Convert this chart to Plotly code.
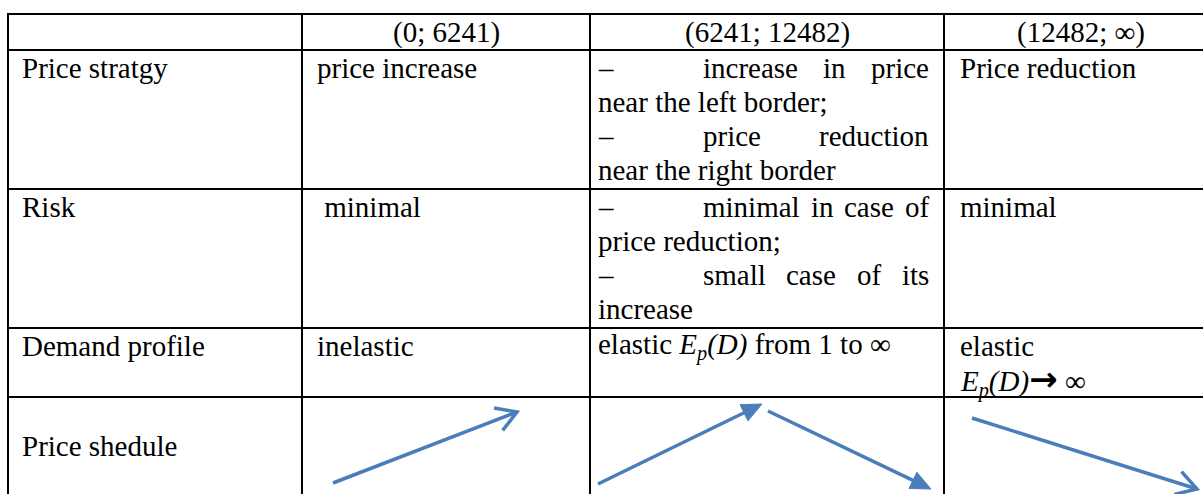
import math
import plotly.graph_objects as go

# ---------------- data ----------------
col_headers = ["(0; 6241)", "(6241; 12482)", "(12482; ∞)"]
row_labels = ["Price stratgy", "Risk", "Demand profile", "Price shedule"]

# cell contents: list of lines; a line is (words, justified_with_dash)
strategy_cells = [
    [(["price increase"], False)],
    [(["–", "increase", "in", "price"], True),
     (["near the left border;"], False),
     (["–", "price", "reduction"], True),
     (["near the right border"], False)],
    [(["Price reduction"], False)],
]
risk_cells = [
    [([" minimal"], False)],
    [(["–", "minimal", "in", "case", "of"], True),
     (["price reduction;"], False),
     (["–", "small", "case", "of", "its"], True),
     (["increase"], False)],
    [(["minimal"], False)],
]
ARROW_SYM = '<span style="font-family:DejaVu Sans;font-size:34px"><b>→</b></span>'
demand_cells = [
    [(["inelastic"], False)],
    [(["elastic <i>E</i><sub><i>p</i></sub><i>(D)</i> from 1 to ∞"], False)],
    [(["elastic"], False),
     (["<i>E</i><sub><i>p</i></sub><i>(D)</i>" + ARROW_SYM + " ∞"], False)],
]
# price schedule: direction of each arrow per column ("up" / "down"), head style
schedule = [
    [("up", "open")],
    [("up", "filled"), ("down", "filled")],
    [("down", "open")],
]

# ---------------- layout geometry ----------------
W, H = 1203, 494
FONT = "Liberation Serif, Times New Roman, DejaVu Serif, serif"
FS = 29
col_x = [8, 302, 590, 944, 1218]
row_y = [14, 50, 189, 328, 397, 560]
LINE_H = 34
BASE_OFF = 28
TAB_X = 703
RIGHT_X = 929
BLUE = "#4A7EBB"

widths = {' ': 250, '–': 500, 'a': 444, 'b': 500, 'c': 444, 'd': 500, 'e': 444, 'f': 333,
          'g': 500, 'h': 500, 'i': 278, 'j': 278, 'k': 500, 'l': 278, 'm': 778, 'n': 500,
          'o': 500, 'p': 500, 'q': 500, 'r': 333, 's': 389, 't': 278, 'u': 500, 'v': 500,
          'w': 722, 'x': 500, 'y': 500, 'z': 444, ';': 278}


def tw(s):
    return sum(widths.get(ch, 500) for ch in s) * FS / 1000.0


fig = go.Figure()
annotations = []


def add_text(x, baseline, text, anchor="left"):
    annotations.append(dict(
        x=x, y=baseline - 0.34 * FS, xref="x", yref="y", text=text, showarrow=False,
        xanchor=anchor, yanchor="middle", borderpad=0, borderwidth=0,
        font=dict(family=FONT, size=FS, color="black")))


# headers
for i, h in enumerate(col_headers):
    cx = (col_x[i + 1] + col_x[i + 2]) / 2
    add_text(cx, row_y[0] + BASE_OFF, h, anchor="center")

# row labels
for r, lab in enumerate(row_labels):
    base = row_y[r + 1] + BASE_OFF
    if r == 3:
        base = 456
    add_text(22, base, lab)

left_pad = [317, 598, 960]
for r, cells in enumerate([strategy_cells, risk_cells, demand_cells]):
    for c, lines in enumerate(cells):
        for k, (words, just) in enumerate(lines):
            base = row_y[r + 1] + BASE_OFF + k * LINE_H
            if just:
                add_text(left_pad[c], base, words[0])
                rest = words[1:]
                total = sum(tw(w) for w in rest)
                gap = (RIGHT_X - TAB_X - total) / (len(rest) - 1) if len(rest) > 1 else 0
                x = TAB_X
                for w in rest:
                    add_text(x, base, w)
                    x += tw(w) + gap
            else:
                add_text(left_pad[c], base, words[0])

# table lines
shapes = []
for y in row_y[:5]:
    shapes.append(dict(type="line", x0=col_x[0] - 1, x1=col_x[-1], y0=y, y1=y,
                       line=dict(color="black", width=2), xref="x", yref="y"))
for x in col_x:
    shapes.append(dict(type="line", x0=x, x1=x, y0=row_y[0] - 1, y1=row_y[-1],
                       line=dict(color="black", width=2), xref="x", yref="y"))

# arrows of the price schedule row (pixel geometry per column)
arrow_geom = {
    (0, 0): ((333, 483), (517, 412)),
    (1, 0): ((598, 484), (762, 404)),
    (1, 1): ((768, 411), (931, 489)),
    (2, 0): ((972, 418), (1197, 489)),
}
for c, arrows in enumerate(schedule):
    for k, (direction, head) in enumerate(arrows):
        (x0, y0), (x1, y1) = arrow_geom[(c, k)]
        dx, dy = x1 - x0, y1 - y0
        L = math.hypot(dx, dy)
        ux, uy = dx / L, dy / L
        px, py = -uy, ux
        if head == "open":
            fig.add_trace(go.Scatter(x=[x0, x1], y=[y0, y1], mode="lines",
                                     line=dict(color=BLUE, width=3.5), hoverinfo="skip"))
            hl, hw = 20, 12
            bx, by = x1 - ux * hl, y1 - uy * hl
            fig.add_trace(go.Scatter(
                x=[bx + px * hw, x1, bx - px * hw], y=[by + py * hw, y1, by - py * hw],
                mode="lines", line=dict(color=BLUE, width=3.5), hoverinfo="skip"))
        else:
            hl, hw = 20, 9
            bx, by = x1 - ux * hl, y1 - uy * hl
            fig.add_trace(go.Scatter(x=[x0, bx], y=[y0, by], mode="lines",
                                     line=dict(color=BLUE, width=3.5), hoverinfo="skip"))
            fig.add_trace(go.Scatter(
                x=[bx + px * hw, x1, bx - px * hw, bx + px * hw],
                y=[by + py * hw, y1, by - py * hw, by + py * hw],
                mode="lines", fill="toself", fillcolor=BLUE,
                line=dict(color=BLUE, width=1), hoverinfo="skip"))

fig.update_layout(
    width=W, height=H, autosize=False,
    margin=dict(l=0, r=0, t=0, b=0, pad=0),
    paper_bgcolor="white", plot_bgcolor="white",
    showlegend=False,
    xaxis=dict(range=[0, W], visible=False, fixedrange=True),
    yaxis=dict(range=[H, 0], visible=False, fixedrange=True),
    shapes=shapes, annotations=annotations,
)
fig.write_html("out.html", config={"displayModeBar": False},
               post_script="document.body.style.margin='0';document.body.style.overflow='hidden';")
